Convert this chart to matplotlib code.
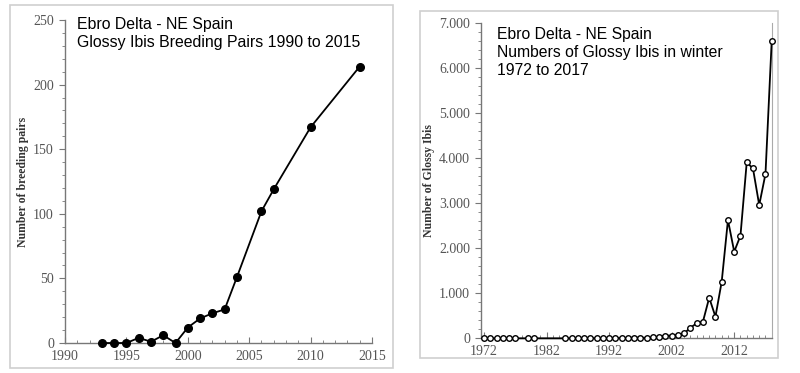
import matplotlib.pyplot as plt
from matplotlib.patches import Rectangle
from matplotlib.ticker import MultipleLocator, FuncFormatter

# breeding pairs (left)
breed_years = [1993, 1994, 1995, 1996, 1997, 1998, 1999, 2000, 2001, 2002,
               2003, 2004, 2006, 2007, 2010, 2014]
breed_pairs = [0, 0, 0, 4, 1, 6, 0, 12, 19, 23, 26, 51, 102, 119, 167, 214]

# wintering numbers (right)
winter_years = [1972, 1973, 1974, 1975, 1976, 1977, 1979, 1980,
                1985, 1986, 1987, 1988, 1989, 1990, 1991, 1992, 1993, 1994,
                1995, 1996, 1997, 1998, 1999, 2000, 2001, 2002, 2003, 2004,
                2005, 2006, 2007, 2008, 2009, 2010, 2011, 2012, 2013, 2014,
                2015, 2016, 2017, 2018]
winter_count = [0, 0, 0, 0, 0, 0, 0, 0,
                0, 0, 0, 0, 5, 0, 0, 0, 5, 5,
                10, 15, 15, 10, 20, 40, 60, 60, 75, 110,
                236, 333, 370, 900, 480, 1256, 2624, 1922, 2276, 3902,
                3769, 2956, 3644, 6600]

left_title = "Ebro Delta - NE Spain\nGlossy Ibis Breeding Pairs 1990 to 2015"
right_title = "Ebro Delta - NE Spain\nNumbers of Glossy Ibis in winter\n1972 to 2017"

serif = "Liberation Serif"
sans = "Liberation Sans"
tick_col = "#555555"

fig = plt.figure(figsize=(8, 3.73), dpi=100)

# panel frames (the two pictures sit in light grey boxes)
W, H = 800, 373
for (x0, y0, x1, y1) in [(10, 5, 393, 368), (420, 11, 778, 358)]:
    fig.patches.append(Rectangle((x0 / W, 1 - y1 / H), (x1 - x0) / W, (y1 - y0) / H,
                                 transform=fig.transFigure, fill=False,
                                 edgecolor="#cfcfcf", linewidth=1.2))


def style_axes(ax):
    for s in ["top", "right"]:
        ax.spines[s].set_visible(False)
    for s in ["left", "bottom"]:
        ax.spines[s].set_color("#777777")
        ax.spines[s].set_linewidth(1.0)
    ax.tick_params(which="both", colors="#777777", labelcolor=tick_col,
                   labelsize=10)
    ax.tick_params(axis="x", which="major", direction="in", length=4, pad=5)
    ax.tick_params(axis="x", which="minor", direction="in", length=2.5)
    ax.tick_params(axis="y", which="major", direction="out", length=4, pad=4)
    ax.tick_params(axis="y", which="minor", direction="out", length=2.5)
    for lab in ax.get_xticklabels() + ax.get_yticklabels():
        lab.set_fontfamily(serif)


# left chart
ax1 = fig.add_axes([0.08125, 0.0804, 0.38375, 0.866])
ax1.plot(breed_years, breed_pairs, color="black", lw=1.3, marker="o",
         markersize=5.5, markerfacecolor="black", markeredgecolor="black",
         clip_on=False, zorder=3)
ax1.set_xlim(1990, 2015)
ax1.set_ylim(0, 250)
ax1.xaxis.set_major_locator(MultipleLocator(5))
ax1.xaxis.set_minor_locator(MultipleLocator(1))
ax1.yaxis.set_major_locator(MultipleLocator(50))
ax1.yaxis.set_minor_locator(MultipleLocator(10))
style_axes(ax1)
ax1.set_ylabel("Number of breeding pairs", fontfamily=serif, fontweight="bold",
               fontsize=8.5, color="#333333")
ax1.yaxis.set_label_coords(-0.118, 0.5)
fig.text(77 / W, 1 - 17 / H, left_title, fontfamily=sans, fontsize=11.4,
         va="top", ha="left", linespacing=1.25)

# right chart
ax2 = fig.add_axes([0.60125, 0.093, 0.3634, 0.846])
ax2.plot(winter_years, winter_count, color="black", lw=1.3, marker="o",
         markersize=4, markerfacecolor="white", markeredgecolor="black",
         markeredgewidth=1.0, clip_on=False, zorder=3)
ax2.set_xlim(1971.5, 2018)
ax2.set_ylim(0, 7000)
ax2.set_xticks([1972, 1982, 1992, 2002, 2012])
ax2.xaxis.set_minor_locator(MultipleLocator(1))
ax2.yaxis.set_major_locator(MultipleLocator(1000))
ax2.yaxis.set_minor_locator(MultipleLocator(200))
ax2.yaxis.set_major_formatter(FuncFormatter(lambda v, p: f"{int(v):,}".replace(",", ".")))
style_axes(ax2)
ax2.spines["right"].set_visible(True)
ax2.spines["right"].set_color("#aaaaaa")
ax2.set_ylabel("Number of Glossy Ibis", fontfamily=serif, fontweight="bold",
               fontsize=8.5, color="#333333")
ax2.yaxis.set_label_coords(-0.158, 0.5)
fig.text(497 / W, 1 - 27 / H, right_title, fontfamily=sans, fontsize=11.3,
         va="top", ha="left", linespacing=1.25)

fig.savefig("out.png", dpi=100)
